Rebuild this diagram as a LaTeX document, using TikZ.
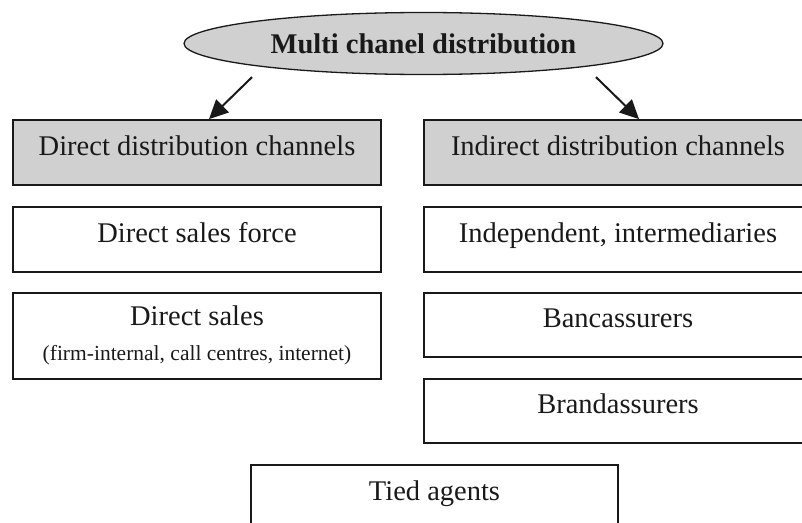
\documentclass[tikz,border=0pt]{standalone}
\usepackage{fontspec}
\setmainfont{Liberation Serif}
\usetikzlibrary{shapes.geometric,arrows.meta,calc}
\definecolor{boxgray}{RGB}{208,208,208}
\tikzset{
  bigtext/.style={font=\fontsize{28.5}{34}\selectfont},
  smalltext/.style={font=\fontsize{21.5}{26}\selectfont},
  chbox/.style={draw=black!90, line width=1.8pt, rectangle, inner sep=0pt,
    bigtext, text height=20pt, text depth=15pt, text=black!90},
  headbox/.style={chbox, fill=boxgray},
  rootell/.style={draw=black!90, line width=1.3pt, ellipse, fill=boxgray, inner sep=0pt,
    minimum width=479pt, minimum height=62pt,
    font=\fontsize{28.5}{34}\selectfont\bfseries, text height=19pt, text depth=0pt, text=black!90},
  arr/.style={draw=black!90, line width=2pt, -{Triangle[length=19pt,width=18pt]}},
  lbl/.style={anchor=base, text=black!90, inner sep=0pt}
}
\begin{document}
\begin{tikzpicture}[x=1pt,y=-1pt]
\useasboundingbox (0,0) rectangle (802,522);
\clip (0,0) rectangle (802,522);

\node[rootell] (root) at (423.5,43.5) {Multi chanel distribution};

% left column
\node[headbox, minimum width=368pt, minimum height=65pt] (dd) at (197,152.5) {Direct distribution channels};
\node[chbox, minimum width=368pt, minimum height=65pt] (dsf) at (197,239.5) {Direct sales force};
\node[chbox, minimum width=368pt, minimum height=86pt] (ds) at (197,336) {};
\node[lbl, bigtext] (dst) at (197,325) {Direct sales};
\node[lbl, smalltext] (dss) at (197,360) {(firm-internal, call centres, internet)};

% right column
\node[headbox, minimum width=388pt, minimum height=65pt] (id) at (618,152.5) {Indirect distribution channels};
\node[chbox, minimum width=388pt, minimum height=65pt] (ii) at (618,239.5) {Independent, intermediaries};
\node[chbox, minimum width=388pt, minimum height=64pt] (ba) at (618,325) {Bancassurers};
\node[chbox, minimum width=388pt, minimum height=64pt] (br) at (618,411) {Brandassurers};

% bottom
\node[chbox, minimum width=367pt, minimum height=65pt] (ta) at (434.5,497.5) {Tied agents};

% arrows
\draw[arr] ([xshift=-171.5pt,yshift=-2pt]root.south) -- ([xshift=12pt]dd.north);
\draw[arr] ([xshift=172.5pt,yshift=-2pt]root.south) -- ([xshift=21pt]id.north);
\end{tikzpicture}
\end{document}
